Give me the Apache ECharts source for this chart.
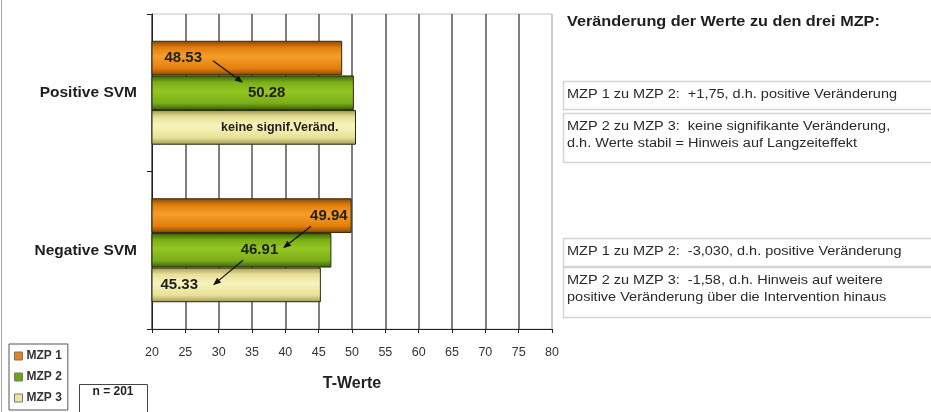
<!DOCTYPE html>
<html>
<head>
<meta charset="utf-8">
<script src="https://cdn.jsdelivr.net/npm/echarts@6/dist/echarts.min.js"></script>
<style>
    html, body { margin: 0; padding: 0; background: #fff; }
    #main { width: 931px; height: 412px; }
</style>
</head>
<body>
<div id="main"></div>
<script>
// T-Werte je Skala zu den drei Messzeitpunkten
var categories = ['Positive SVM', 'Negative SVM'];
var seriesNames = ['MZP 1', 'MZP 2', 'MZP 3'];
var mzp1 = [48.53, 49.94];
var mzp2 = [50.28, 46.91];
var mzp3 = [50.6, 45.33];
var labels1 = ['48.53', '49.94'];
var labels2 = ['50.28', '46.91'];
var labels3 = ['keine signif.Veränd.', '45.33'];
var xMin = 20, xMax = 80, xStep = 5;

var title = 'Veränderung der Werte zu den drei MZP:';
var notes = [
    'MZP 1 zu MZP 2:  +1,75, d.h. positive Veränderung',
    'MZP 2 zu MZP 3:  keine signifikante Veränderung,\nd.h. Werte stabil = Hinweis auf Langzeiteffekt',
    'MZP 1 zu MZP 2:  -3,030, d.h. positive Veränderung',
    'MZP 2 zu MZP 3:  -1,58, d.h. Hinweis auf weitere\npositive Veränderung über die Intervention hinaus'
];
var sampleText = 'n = 201';

// arrows between labels: [category, x from, dy from, x to, dy to]
var arrows = [
    [0, 29.15, -32, 33.65, -10],
    [1, 43.85, -24, 39.65, -2],
    [1, 33.65, 10, 29.15, 35]
];

function grad(c) {
    return new echarts.graphic.LinearGradient(0, 0, 0, 1, [
        {offset: 0, color: c[0]},
        {offset: 0.2, color: c[1]},
        {offset: 0.45, color: c[2]},
        {offset: 0.8, color: c[1]},
        {offset: 1, color: c[0]}
    ]);
}

var orange = ['#884600', '#e27f0d', '#f59e2a'];
var green = ['#365e08', '#7aae18', '#94c623'];
var yellow = ['#a39a52', '#e8e098', '#f8f4bc'];
var flat = ['#e8821a', '#6aa51a', '#ece69c'];

var fontFam = 'Liberation Sans, Arial, sans-serif';
var labelFont = {color: '#1e1e1e', fontSize: 15, fontWeight: 'bold', fontFamily: fontFam};

function makeData(values, texts, cfgs) {
    var out = [];
    for (var i = 0; i < values.length; i++) {
        var lab = Object.assign({show: true, formatter: texts[i]}, labelFont, cfgs[i]);
        out.push({value: values[i], label: lab});
    }
    return out;
}

var chart = echarts.init(document.getElementById('main'));

function barSeries(name, data, colors) {
    return {
        type: 'bar',
        name: name,
        data: data,
        barGap: '0%',
        barCategoryGap: '34%',
        itemStyle: {color: grad(colors), borderColor: '#2b2b14', borderWidth: 1},
        emphasis: {disabled: true}
    };
}

var splitColors = [];
for (var v = xMin; v <= xMax; v += xStep) {
    splitColors.push(v === xMax ? '#c4c4c4' : '#555');
}

var option = {
    animation: false,
    textStyle: {fontFamily: fontFam},
    grid: {
        left: 152, top: 14, width: 400, height: 315,
        show: true, borderColor: '#c4c4c4', borderWidth: 1
    },
    legend: {
        orient: 'vertical',
        left: 9, top: 344,
        padding: [6, 6, 6, 5],
        itemGap: 9,
        itemWidth: 8, itemHeight: 8,
        icon: 'rect',
        borderColor: '#555',
        borderWidth: 1,
        selectedMode: false,
        textStyle: {fontSize: 12, fontWeight: 'bold', color: '#333', padding: [0, 0, 0, -1]},
        data: [
            {name: seriesNames[0], itemStyle: {color: flat[0], borderColor: '#777', borderWidth: 1}},
            {name: seriesNames[1], itemStyle: {color: flat[1], borderColor: '#777', borderWidth: 1}},
            {name: seriesNames[2], itemStyle: {color: flat[2], borderColor: '#777', borderWidth: 1}}
        ]
    },
    xAxis: {
        type: 'value',
        min: xMin, max: xMax, interval: xStep,
        name: 'T-Werte',
        nameLocation: 'middle',
        nameGap: 47,
        nameTextStyle: {fontSize: 16, fontWeight: 'bold', color: '#222'},
        axisLine: {show: true, lineStyle: {color: '#222', width: 1}},
        axisTick: {show: true, length: 4, lineStyle: {color: '#222'}},
        axisLabel: {fontSize: 12.5, color: '#333', margin: 17},
        splitLine: {show: true, lineStyle: {color: splitColors, width: 1.5}}
    },
    yAxis: {
        type: 'category',
        inverse: true,
        data: categories,
        axisLine: {show: true, lineStyle: {color: '#222', width: 1}},
        axisTick: {show: true, length: 5, lineStyle: {color: '#222'}},
        axisLabel: {fontSize: 15.5, fontWeight: 'bold', color: '#1e1e1e', margin: 15}
    },
    series: [
        barSeries(seriesNames[0], makeData(mzp1, labels1, [
            {position: 'insideLeft', distance: 13},
            {position: 'insideRight', distance: 4}
        ]), orange),
        barSeries(seriesNames[1], makeData(mzp2, labels2, [
            {position: 'inside', offset: [14, 0]},
            {position: 'inside', offset: [18, 0]}
        ]), green),
        barSeries(seriesNames[2], makeData(mzp3, labels3, [
            {position: 'inside', offset: [26, 0], fontSize: 12.5},
            {position: 'insideLeft', distance: 9}
        ]), yellow)
    ]
};

chart.setOption(option);

function arrowShapes(x1, y1, x2, y2) {
    var ang = Math.atan2(y2 - y1, x2 - x1);
    var len = 8, half = 3.2;
    var bx = x2 - len * Math.cos(ang), by = y2 - len * Math.sin(ang);
    var px = -Math.sin(ang) * half, py = Math.cos(ang) * half;
    return [
        {type: 'line', silent: true, z: 100,
         shape: {x1: x1, y1: y1, x2: bx, y2: by},
         style: {stroke: '#111', lineWidth: 1.2}},
        {type: 'polygon', silent: true, z: 100,
         shape: {points: [[x2, y2], [bx + px, by + py], [bx - px, by - py]]},
         style: {fill: '#111'}}
    ];
}

var graphics = [];

arrows.forEach(function (a) {
    var cy = chart.convertToPixel({yAxisIndex: 0}, categories[a[0]]);
    var x1 = chart.convertToPixel({xAxisIndex: 0}, a[1]);
    var x2 = chart.convertToPixel({xAxisIndex: 0}, a[3]);
    graphics = graphics.concat(arrowShapes(x1, cy + a[2], x2, cy + a[4]));
});

// left frame line
graphics.push({type: 'line', silent: true, shape: {x1: 1.5, y1: 0, x2: 1.5, y2: 412},
    style: {stroke: '#a8a8a8', lineWidth: 1}});

// n box
graphics.push({type: 'rect', silent: true, shape: {x: 79.5, y: 384.5, width: 68, height: 30},
    style: {fill: '#fff', stroke: '#444', lineWidth: 1}});
graphics.push({type: 'text', silent: true, x: 113, y: 392,
    style: {text: sampleText, fill: '#222', font: 'bold 12px ' + fontFam,
        textAlign: 'center', textVerticalAlign: 'middle'}});

// right hand notes (source text is a bit stretched sideways)
var stretch = 1.16;
graphics.push({type: 'text', silent: true, x: 567, y: 22, scaleX: stretch,
    style: {text: title, fill: '#1e1e1e', font: 'bold 14px ' + fontFam,
        textVerticalAlign: 'middle'}});

var boxes = [[81, 28], [113, 49], [238, 28], [267, 50]];
for (var i = 0; i < boxes.length; i++) {
    graphics.push({type: 'rect', silent: true,
        shape: {x: 563.5, y: boxes[i][0] + 0.5, width: 380, height: boxes[i][1]},
        style: {fill: '#fff', stroke: '#d4d4d4', lineWidth: 1.5}});
    graphics.push({type: 'text', silent: true, x: 567, y: boxes[i][0] + 5, scaleX: stretch,
        style: {text: notes[i], fill: '#2a2a2a', font: '12.5px ' + fontFam,
            lineHeight: 17, textVerticalAlign: 'top'}});
}

chart.setOption({graphic: graphics});
</script>
</body>
</html>
